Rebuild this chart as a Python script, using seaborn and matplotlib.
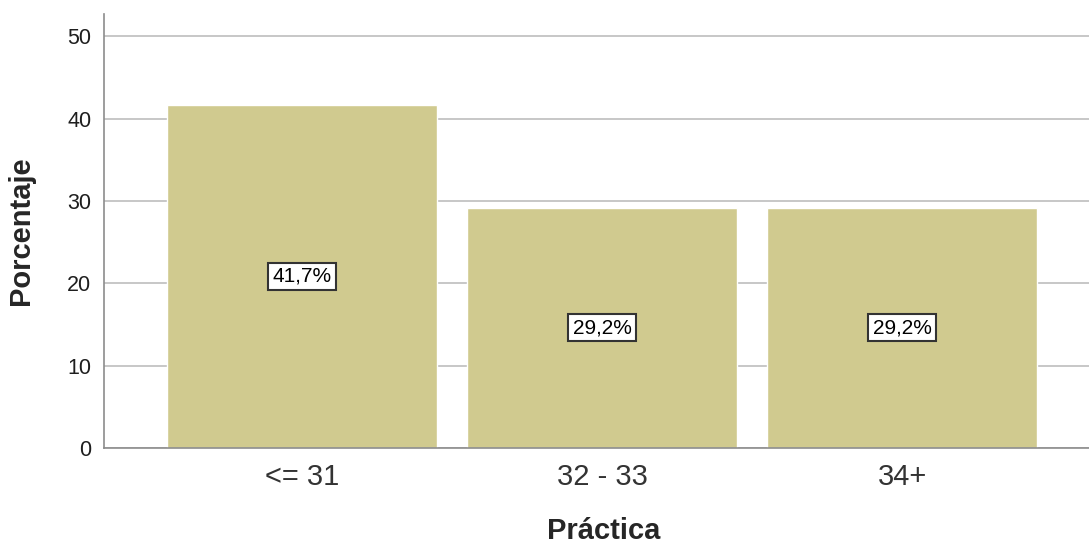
import matplotlib
matplotlib.use("Agg")
import matplotlib.pyplot as plt
import seaborn as sns
import pandas as pd

# ─── Data ─────────────────────────────────────────────────────────────────────
categories = ["<= 31", "32 - 33", "34+"]
percentages = [41.7, 29.2, 29.2]
bar_labels = ["41,7%", "29,2%", "29,2%"]

BAR_COLOR = "#D0CA8F"
GRID_COLOR = "#BDBDBD"
SPINE_COLOR = "#8C8C8C"

sns.set_theme(style="white")
plt.rcParams["font.family"] = ["Liberation Sans", "DejaVu Sans"]

df = pd.DataFrame({"Práctica": categories, "Porcentaje": percentages})

fig = plt.figure(figsize=(10.89, 5.46), dpi=100)
ax = fig.add_axes([104 / 1089, 98 / 546, 1 - 104 / 1089, 434 / 546])

sns.barplot(data=df, x="Práctica", y="Porcentaje", color=BAR_COLOR,
            saturation=1, width=0.9, ax=ax, zorder=2)

ax.set_xlim(-0.66, 2.623)
ax.set_ylim(0, 52.7)
ax.set_yticks([0, 10, 20, 30, 40, 50])
ax.yaxis.grid(True, color=GRID_COLOR, linewidth=1.2, zorder=0)
ax.set_axisbelow(True)

for side in ("top", "right"):
    ax.spines[side].set_visible(False)
for side in ("left", "bottom"):
    ax.spines[side].set_color(SPINE_COLOR)
    ax.spines[side].set_linewidth(1.2)

ax.tick_params(axis="y", length=0, pad=9, labelsize=15.5, colors="#1E1E1E")
ax.tick_params(axis="x", length=0, pad=11, labelsize=21, colors="#333333")

ax.set_ylabel("Porcentaje", fontsize=21, fontweight="bold", labelpad=23)
ax.set_xlabel("Práctica", fontsize=21, fontweight="bold")
ax.xaxis.set_label_coords(0.507, -0.158)

for i, (val, txt) in enumerate(zip(percentages, bar_labels)):
    ax.text(i, val / 2, txt, ha="center", va="center", fontsize=15,
            color="black", zorder=3,
            bbox=dict(boxstyle="square,pad=0.2", facecolor="white",
                      edgecolor="#333333", linewidth=1.5))

fig.savefig("out.png", dpi=100)
